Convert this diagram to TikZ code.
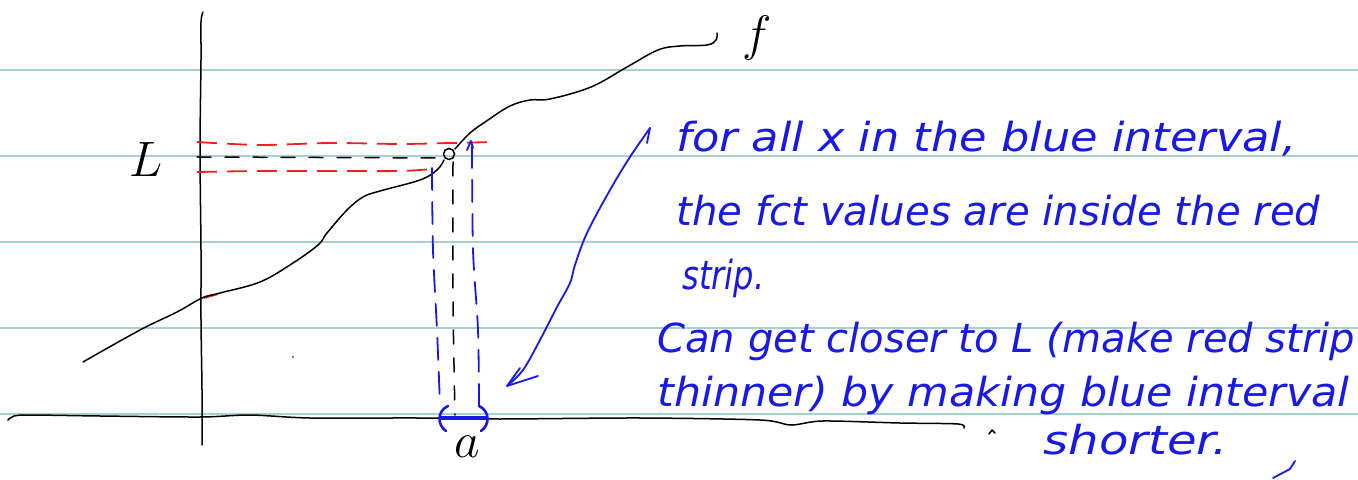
\documentclass[tikz,border=0pt]{standalone}
\usepackage{fontspec}
\usepackage{graphicx}
\newfontfamily\handfont{DejaVu Sans}
\usetikzlibrary{arrows.meta}
\definecolor{rulecol}{RGB}{168,208,210}
\definecolor{ink}{RGB}{25,25,230}
\definecolor{redink}{RGB}{240,30,30}
\newlength\hwlen
\newcommand\fitline[2]{\settowidth\hwlen{#2}\scalebox{\fpeval{(#1)/(\hwlen)}}[1]{#2}}
\tikzset{
  ruled/.style={draw=rulecol, line width=0.9pt},
  pen/.style={draw=black, line width=0.75pt, line cap=round, line join=round},
  bluepen/.style={draw=ink, line width=0.9pt, line cap=round, line join=round},
  reddash/.style={draw=redink, line width=0.9pt, dash pattern=on 10pt off 5pt},
  blackdash/.style={pen, dash pattern=on 7pt off 7pt},
  bluedash/.style={bluepen, dash pattern=on 11pt off 6pt},
  note/.style={text=ink, font=\handfont\itshape\fontsize{20}{23}\selectfont, anchor=base west, inner sep=0pt},
  lbl/.style={text=black, inner sep=0pt},
}
\begin{document}
\begin{tikzpicture}[x=0.5pt,y=-0.5pt]
\useasboundingbox (0,0) rectangle (1358,480);
\fill[white] (0,0) rectangle (1358,480);
% ruled paper
\foreach \yy in {70,156,242,328,414} \draw[ruled] (0,\yy) -- (1358,\yy);

% axes
\draw[pen] plot[smooth] coordinates {(203,12) (201,22) (201,60) (200,150) (201,250) (201,320) (202,390) (202,445)};
\draw[pen] plot[smooth, tension=0.5] coordinates {(8,420) (14,416) (30,415) (100,416) (200,417) (250,415) (310,418) (417,418) (500,419) (640,418) (760,420) (791,425) (823,421) (900,423) (958,424) (964,428)};
\draw[pen] (989,434) -- (992,430) -- (995,433);
\fill (293,357) circle (0.9);

% red strip
\draw[reddash] plot[smooth] coordinates {(197,142) (260,145) (330,143) (400,144) (450,143) (495,142)};
\draw[reddash] plot[smooth] coordinates {(197,172) (260,171) (330,171) (400,171) (432,169)};
\draw[redink, line width=0.9pt] (204,298) -- (218,294);

% L level
\draw[blackdash] (197,157) -- (440,158);

% point (a,L)
\node[draw, circle, line width=0.75pt, inner sep=0pt, minimum size=5.5pt] (pt) at (449,154) {};

% function f
\draw[pen] plot[smooth, tension=0.6] coordinates {(83,362) (140,330) (177,312) (202,298) (220,293) (260,282) (293,263) (318,245) (327,233) (347,210) (363,197) (380,191) (420,180) (437,170) (444,160)};
\draw[pen] plot[smooth, tension=0.6] coordinates {(455,149) (470,133) (488,120) (510,106) (530,100) (550,99) (591,87) (627,67) (658,50) (680,46) (707,45) (716,40) (717,33)};
\node[lbl, font=\fontsize{28}{28}\selectfont] (flab) at (757,38) {$f$};
\node[lbl, font=\fontsize{28}{28}\selectfont] (Llab) at (146,160) {$L$};
\node[lbl, font=\fontsize{28}{28}\selectfont] (alab) at (467,447) {$a$};

% vertical dashed lines
\draw[bluedash] plot[smooth] coordinates {(432,168) (433,250) (437,330) (440,405)};
\draw[bluedash] plot[smooth] coordinates {(472,146) (473,250) (478,330) (479,405)};
\draw[bluepen] (467,150) -- (471,141) -- (473,148);
\draw[blackdash] plot[smooth] coordinates {(453,162) (453,300) (455,415)};

% blue interval
\draw[draw=ink, line width=2pt] (441,418) -- (486,418);
\draw[bluepen, line width=1.3pt] (448,406) .. controls (437,411) and (437,425) .. (446,431);
\draw[bluepen, line width=1.3pt] (479,406) .. controls (490,411) and (490,425) .. (481,431);

% blue arrow
\coordinate (arrS) at (650,128);
\coordinate (arrE) at (507,386);
\draw[bluepen] (647,143) -- (arrS);
\draw[bluepen] plot[smooth, tension=0.6] coordinates {(arrS) (630,157) (610,190) (587,233) (575,265) (570,283) (557,307) (540,340) (523,370) (arrE)};
\draw[bluepen] (520,368) -- (arrE) -- (538,376);

% text
\node[note] (t1) at (676,152) {\fitline{310pt}{for all x in the blue interval,}};
\node[note] (t2) at (676,226) {\fitline{322pt}{the fct values are inside the red}};
\node[note] (t3) at (682,290) {\fitline{41pt}{strip.}};
\node[note] (t4) at (657,352) {\fitline{349pt}{Can get closer to L (make red strip}};
\node[note] (t5) at (657,406) {\fitline{346pt}{thinner) by making blue interval}};
\node[note] (t6) at (1043,454) {\fitline{92pt}{shorter.}};
\draw[bluepen] (1273,478) -- (1290,469) -- (1295,461);
\end{tikzpicture}
\end{document}
